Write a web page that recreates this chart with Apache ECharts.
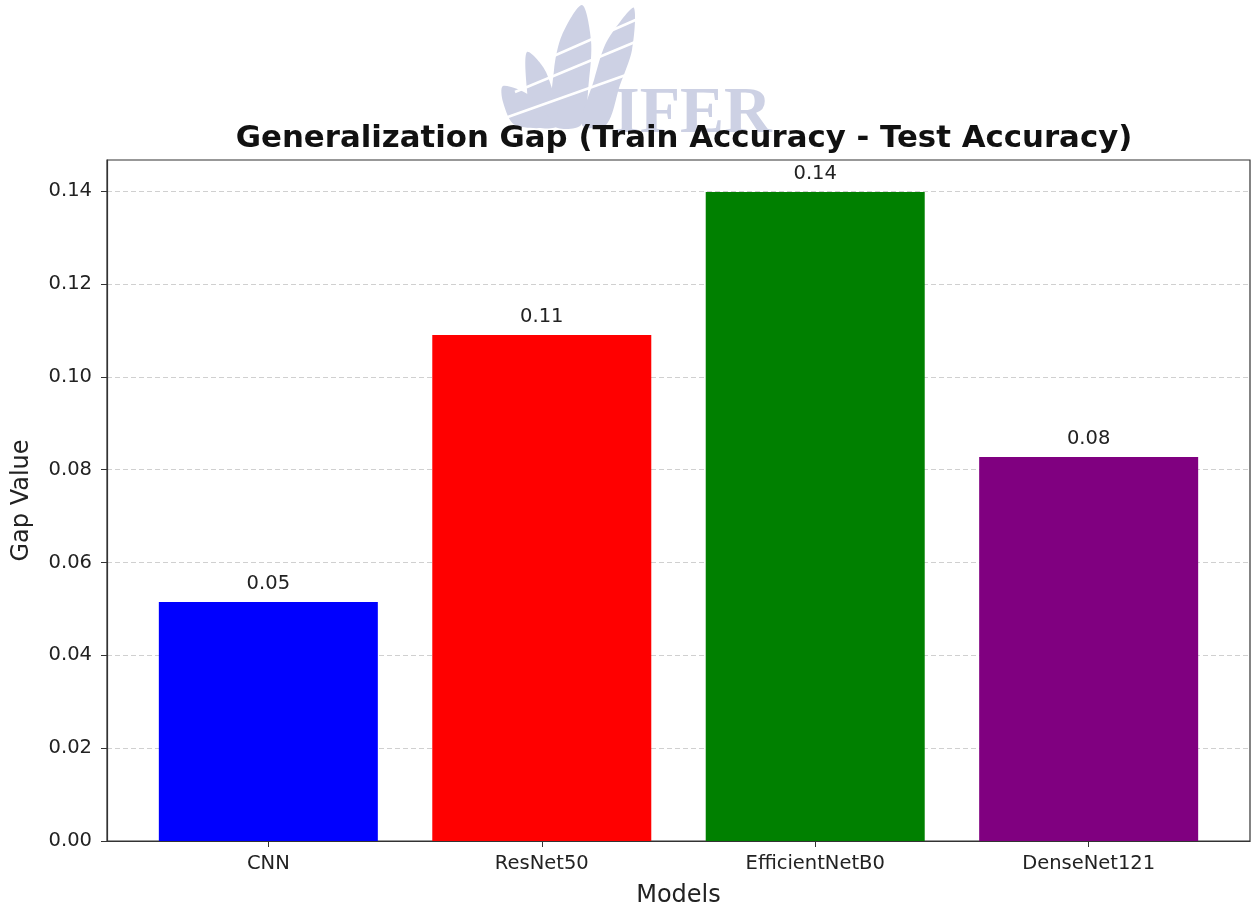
<!DOCTYPE html>
<html>
<head>
<meta charset="utf-8">
<script src="https://cdn.jsdelivr.net/npm/echarts@6/dist/echarts.min.js"></script>
<style>
  html, body { margin: 0; padding: 0; background: #fff; }
  #chart { width: 1254px; height: 907px; }
</style>
</head>
<body>
<div id="chart"></div>
<script>
// 数据
var models = ['CNN', 'ResNet50', 'EfficientNetB0', 'DenseNet121'];
var gapValues = [0.0515, 0.109, 0.1398, 0.0827];
var barColors = ['#0000ff', '#ff0000', '#008000', '#800080'];
var yTicks = [0, 0.02, 0.04, 0.06, 0.08, 0.10, 0.12, 0.14];
var xTicks = [0, 1, 2, 3];

var font = 'DejaVu Sans';
var markColor = '#cdd1e4';
var chart = echarts.init(document.getElementById('chart'));

var barData = gapValues.map(function (v, i) {
    return { value: [i, v], itemStyle: { color: barColors[i] } };
});

// 背景水印(叶子 + 字母)
function leaf(points) {
    return { type: 'polygon', z: -10, shape: { points: points, smooth: 0.3 }, style: { fill: markColor } };
}
function stripe(x1, y1, x2, y2) {
    return { type: 'line', z: -9, shape: { x1: x1, y1: y1, x2: x2, y2: y2 }, style: { stroke: '#fff', lineWidth: 2.5 } };
}

chart.setOption({
    animation: false,
    backgroundColor: '#fff',
    title: {
        text: 'Generalization Gap (Train Accuracy - Test Accuracy)',
        left: 679,
        textAlign: 'center',
        top: 118,
        textStyle: { fontFamily: font, fontSize: 30.8, fontWeight: 'bold', color: '#111' }
    },
    graphic: [
        leaf([[582, 5], [591, 40], [589, 80], [581, 125], [553, 125], [554, 70], [562, 35]]),
        leaf([[634, 8], [632, 50], [620, 85], [606, 125], [582, 125], [594, 80], [605, 45], [620, 22]]),
        leaf([[527, 52], [546, 72], [558, 125], [533, 125], [527, 90]]),
        leaf([[503, 86], [530, 96], [552, 125], [515, 125], [503, 102]]),
        stripe(505, 118, 640, 70),
        stripe(515, 92, 640, 40),
        stripe(540, 62, 640, 18),
        {
            type: 'text',
            z: -10,
            left: 614,
            top: 82,
            style: {
                text: 'IFER',
                font: 'bold 66px "Liberation Serif"',
                fill: markColor
            }
        }
    ],
    grid: {
        left: 107, right: 4, top: 160, bottom: 66,
        outerBoundsMode: 'none',
        show: true, borderColor: '#333', borderWidth: 1.2,
        backgroundColor: '#fff'
    },
    xAxis: {
        type: 'value',
        min: -0.59,
        max: 3.59,
        name: 'Models',
        nameLocation: 'middle',
        nameGap: 43,
        nameTextStyle: { fontFamily: font, fontSize: 24, color: '#222' },
        axisLine: { show: true, onZero: false, lineStyle: { color: '#333', width: 1.2 } },
        axisTick: { show: true, customValues: xTicks, length: 6, lineStyle: { color: '#333' } },
        axisLabel: {
            customValues: xTicks,
            margin: 13,
            fontFamily: font, fontSize: 19.5, color: '#222',
            formatter: function (v) { return models[Math.round(v)]; }
        },
        splitLine: { show: false }
    },
    yAxis: {
        type: 'value',
        min: 0,
        max: 0.1467,
        name: 'Gap Value',
        nameLocation: 'middle',
        nameGap: 73,
        nameTextStyle: { fontFamily: font, fontSize: 24, color: '#222' },
        axisLine: { show: true, onZero: false, lineStyle: { color: '#333', width: 1.2 } },
        axisTick: { show: true, customValues: yTicks, length: 6, lineStyle: { color: '#333' } },
        axisLabel: {
            customValues: yTicks,
            margin: 15,
            fontFamily: font, fontSize: 19.5, color: '#222',
            formatter: function (v) { return v.toFixed(2); }
        },
        splitLine: {
            show: true,
            lineStyle: { color: '#d0d0d0', type: [5, 3], width: 1 }
        }
    },
    series: [{
        type: 'bar',
        barWidth: 219,
        data: barData,
        label: {
            show: true,
            position: 'top',
            distance: 8,
            fontFamily: font, fontSize: 19.5, color: '#222',
            formatter: function (p) { return p.value[1].toFixed(2); }
        }
    }]
});
</script>
</body>
</html>
